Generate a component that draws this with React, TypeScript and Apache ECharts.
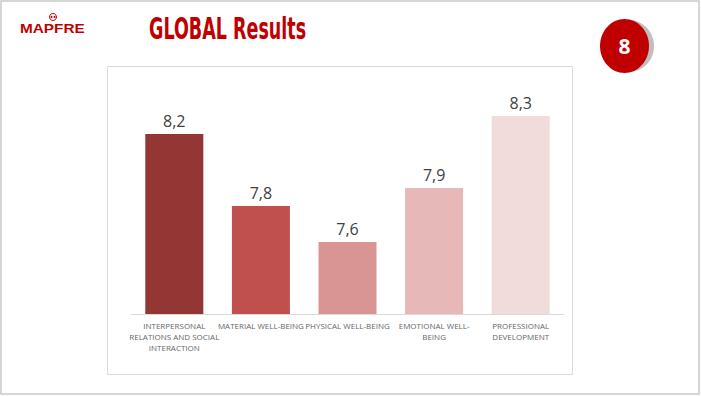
import React, { useEffect, useRef } from "react";
import * as echarts from "echarts";

const categories = [
  "INTERPERSONAL\nRELATIONS AND SOCIAL\nINTERACTION",
  "MATERIAL WELL-BEING",
  "PHYSICAL WELL-BEING",
  "EMOTIONAL WELL-\nBEING",
  "PROFESSIONAL\nDEVELOPMENT",
];
const values = [8.2, 7.8, 7.6, 7.9, 8.3];
const barColors = ["#943634", "#C0504D", "#D99594", "#E6B9B8", "#F2DCDB"];

export default function App() {
  const ref = useRef<HTMLDivElement>(null);
  useEffect(() => {
    if (!ref.current) return;
    const chart = echarts.init(ref.current, null, { renderer: "svg" });
    chart.setOption({
      animation: false,
      backgroundColor: "#ffffff",
      grid: { left: 131, right: 137, top: 98, bottom: 82, containLabel: false },
      xAxis: {
        type: "category",
        data: categories,
        axisLine: { lineStyle: { color: "#D9D9D9", width: 1 } },
        axisTick: { show: false },
        axisLabel: {
          interval: 0,
          color: "#666666",
          fontSize: 8,
          fontFamily: "Open Sans",
          lineHeight: 11,
          margin: 6,
        },
      },
      yAxis: {
        type: "value",
        min: 7.2,
        max: 8.4,
        show: false,
        splitLine: { show: false },
      },
      series: [
        {
          type: "bar",
          data: values.map((v, i) => ({ value: v, itemStyle: { color: barColors[i] } })),
          barCategoryGap: "33%",
          label: {
            show: true,
            position: "top",
            distance: 5,
            color: "#404040",
            fontSize: 16,
            fontFamily: "Open Sans",
            formatter: (p: any) => String(p.value).replace(".", ","),
          },
        },
      ],
      graphic: [
        {
          type: "rect",
          shape: { x: 1, y: 1, width: 698, height: 393 },
          style: { fill: "none", stroke: "#C8C8C8", lineWidth: 1.5 },
          silent: true,
          z: -10,
        },
        {
          type: "rect",
          shape: { x: 107.5, y: 66.5, width: 465, height: 308 },
          style: { fill: "none", stroke: "#D9D9D9", lineWidth: 1 },
          silent: true,
          z: -10,
        },
        {
          type: "text",
          x: 149,
          y: 14,
          scaleX: 0.65,
          style: {
            text: "GLOBAL Results",
            fill: "#C00000",
            font: "bold 30px 'DejaVu Sans Condensed'",
          },
        },
        {
          type: "text",
          x: 20,
          y: 22,
          scaleX: 1.18,
          style: {
            text: "MAPFRE",
            fill: "#C00000",
            font: "900 13px 'Liberation Sans'",
          },
        },
        {
          type: "circle",
          shape: { cx: 53, cy: 17, r: 3.5 },
          style: { fill: "none", stroke: "#C00000", lineWidth: 1 },
        },
        {
          type: "circle",
          shape: { cx: 51.5, cy: 17, r: 1 },
          style: { fill: "#C00000" },
        },
        {
          type: "circle",
          shape: { cx: 54.5, cy: 17, r: 1 },
          style: { fill: "#C00000" },
        },
        {
          type: "ellipse",
          shape: { cx: 629, cy: 46, rx: 25, ry: 26 },
          style: { fill: "#BFBFBF" },
        },
        {
          type: "ellipse",
          shape: { cx: 624.5, cy: 46, rx: 24.5, ry: 27 },
          style: { fill: "#C00000" },
        },
        {
          type: "text",
          x: 624.5,
          y: 46,
          style: {
            text: "8",
            fill: "#ffffff",
            font: "bold 21px 'Open Sans'",
            align: "center",
            verticalAlign: "middle",
          },
        },
      ],
    });
    return () => chart.dispose();
  }, []);
  return (
    <div
      ref={ref}
      style={{ position: "fixed", left: 0, top: 0, width: 701, height: 396 }}
    />
  );
}
